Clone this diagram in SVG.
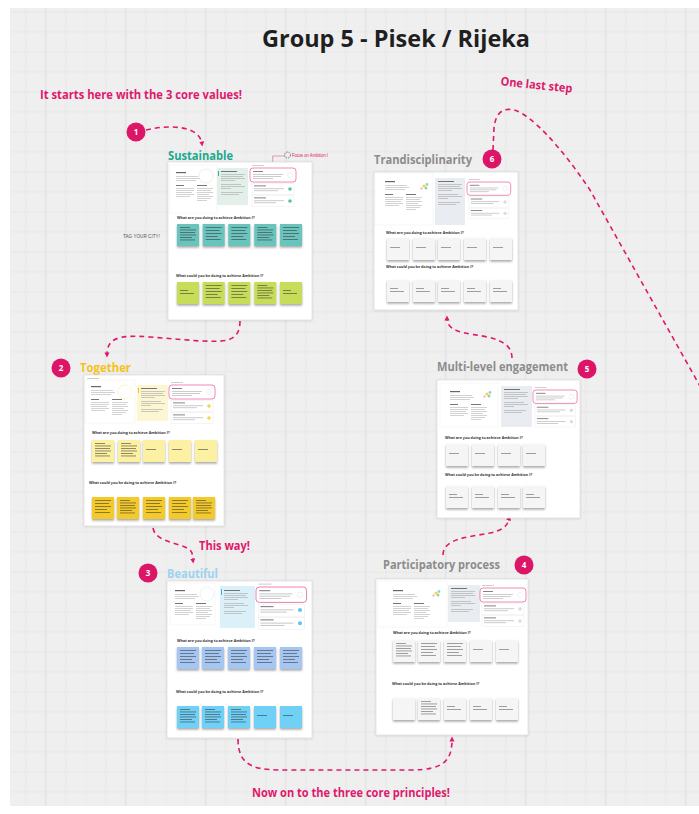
<svg xmlns="http://www.w3.org/2000/svg" xmlns:xlink="http://www.w3.org/1999/xlink" width="699" height="814" viewBox="0 0 699 814">
<style>
.ttl{font-family:"Open Sans","Noto Sans","Liberation Sans",sans-serif;font-weight:700}
.note{font-family:"Open Sans","Noto Sans","Liberation Sans",sans-serif;font-weight:700;fill:#e0186c;font-size:12px}
.hdr{font-family:"Open Sans","Noto Sans","Liberation Sans",sans-serif;font-weight:700;font-size:12px}
.q{font-family:"Open Sans","Liberation Sans",sans-serif;font-weight:700;font-size:3.7px;fill:#333}
.num{font-family:"Open Sans","Liberation Sans",sans-serif;font-weight:700;font-size:8px;fill:#fff;text-anchor:middle}
.board{fill:#fff;stroke:#d6d6d6;stroke-width:.6;filter:url(#bs)}
.panel{fill:#fff;stroke:#ececec;stroke-width:.4}
.pink{fill:#fff;stroke:#e8569a;stroke-width:.7}
.box{fill:none;stroke:#e6e6e6;stroke-width:.4}
.conn{fill:none;stroke:#e0186c;stroke-width:1.6;stroke-dasharray:5 4}
.st{filter:url(#ss)}
.tx{fill:#333;opacity:.6}
.txg{fill:#555;opacity:.6}
</style>
<defs>
<pattern id="grid" width="80" height="80" patternUnits="userSpaceOnUse" x="5.7" y="11.7">
<path d="M20,0V80M60,0V80M0,20H80M0,40H80M0,60H80M0,0V80" stroke="#e6e6e6" stroke-width="1" fill="none"/>
<path d="M40,0V80M0,0H80" stroke="#dddddd" stroke-width="1" fill="none"/>
</pattern>
<filter id="bs" x="-10%" y="-10%" width="120%" height="120%"><feDropShadow dx="0" dy="0.5" stdDeviation="0.8" flood-color="#000" flood-opacity="0.15"/></filter>
<filter id="ss" x="-20%" y="-20%" width="140%" height="150%"><feDropShadow dx="0" dy="1.6" stdDeviation="0.9" flood-color="#000" flood-opacity="0.35"/></filter>
<marker id="ah" viewBox="0 0 10 10" refX="5" refY="5" markerWidth="3.2" markerHeight="3.2" orient="auto-start-reverse" markerUnits="strokeWidth"><path d="M0,0L10,5L0,10z" fill="#e0186c"/></marker>
<g id="t6"><rect x="3" y="3" width="10" height=".9"/><rect x="3" y="5.5" width="16" height=".9"/><rect x="3" y="8" width="15" height=".9"/><rect x="3" y="10.5" width="16" height=".9"/><rect x="3" y="13" width="12" height=".9"/><rect x="3" y="15.5" width="15" height=".9"/></g>
<g id="t5"><rect x="3" y="3" width="16" height=".9"/><rect x="3" y="6" width="14" height=".9"/><rect x="3" y="9" width="16" height=".9"/><rect x="3" y="12" width="12" height=".9"/><rect x="3" y="15" width="15" height=".9"/></g>
<g id="t1"><rect x="3" y="9" width="10" height=".9"/></g>
<g id="t2"><rect x="3" y="8" width="8" height=".9"/><rect x="3" y="11" width="14" height=".9"/></g>
<g id="lp" fill="#b5b5b5">
<rect x="3" y="3" width="10" height="1.2" fill="#666"/>
<rect x="3" y="7" width="22" height=".6"/><rect x="3" y="9" width="24" height=".6"/><rect x="3" y="11" width="20" height=".6"/>
<rect x="3" y="16" width="8" height=".9" fill="#666"/><rect x="3" y="19" width="18" height=".6"/><rect x="3" y="21" width="18" height=".6"/><rect x="3" y="23" width="16" height=".6"/><rect x="3" y="25" width="18" height=".6"/><rect x="3" y="27" width="14" height=".6"/>
<rect x="24" y="16" width="10" height=".9" fill="#666"/><rect x="24" y="19" width="16" height=".6"/><rect x="24" y="21" width="14" height=".6"/><rect x="24" y="23" width="16" height=".6"/><rect x="24" y="25" width="12" height=".6"/><rect x="24" y="27" width="16" height=".6"/><rect x="24" y="29" width="14" height=".6"/><rect x="24" y="31" width="10" height=".6"/>
</g>
<g id="mp" fill="#a9a9a9">
<rect x="0" y="0" width="16" height=".9" fill="#666"/>
<rect x="0" y="3" width="24" height=".6"/><rect x="0" y="5" width="22" height=".6"/><rect x="0" y="7" width="24" height=".6"/><rect x="0" y="9" width="14" height=".6"/>
<rect x="0" y="13" width="20" height=".6"/><rect x="0" y="15" width="24" height=".6"/><rect x="0" y="17" width="10" height=".6"/>
<rect x="0" y="21" width="22" height=".6"/><rect x="0" y="23" width="18" height=".6"/>
</g>
<g id="rp">
<rect x="2" y="-3" width="12" height=".7" fill="#bbb"/>
<rect x="0" y="0" width="46" height="14" rx="3" class="pink"/>
<rect x="3" y="3" width="10" height=".8" fill="#666"/><rect x="3" y="6" width="30" height=".6" fill="#aaa"/><rect x="3" y="8" width="28" height=".6" fill="#aaa"/><rect x="3" y="10" width="20" height=".6" fill="#aaa"/>
<circle cx="40" cy="7" r="2.5" fill="none" stroke="#e2e2e2" stroke-width=".5"/>
<rect x="2" y="15.5" width="42" height="11" class="box"/>
<rect x="4" y="17.5" width="12" height=".8" fill="#666"/><rect x="4" y="20.5" width="30" height=".6" fill="#aaa"/><rect x="4" y="22.5" width="24" height=".6" fill="#aaa"/>
<circle cx="40" cy="21" r="1.8"/>
<rect x="2" y="27.5" width="42" height="11" class="box"/>
<rect x="4" y="29.5" width="12" height=".8" fill="#666"/><rect x="4" y="32.5" width="30" height=".6" fill="#aaa"/><rect x="4" y="34.5" width="22" height=".6" fill="#aaa"/>
<circle cx="40" cy="33" r="1.8"/>
</g>
<g id="icon"><circle cx="0" cy="0" r="1.6" fill="#f5d54a"/><circle cx="3" cy="-1.5" r="1.4" fill="#8fd0ee"/><circle cx="2" cy="2" r="1.5" fill="#9bd58e"/><circle cx="-2.5" cy="2.5" r="1.1" fill="#f2a1c4"/></g>
</defs>

<rect x="0" y="0" width="699" height="814" fill="#fff"/>
<rect x="10" y="8" width="689" height="798" fill="#efefef"/>
<rect x="10" y="8" width="689" height="798" fill="url(#grid)"/>

<g id="texts">
<text class="ttl" x="396" y="47" font-size="24" fill="#1f1f1f" text-anchor="middle" textLength="268" lengthAdjust="spacingAndGlyphs">Group 5 - Pisek / Rijeka</text>
<text class="note" x="40" y="99" textLength="202" lengthAdjust="spacingAndGlyphs">It starts here with the 3 core values!</text>
<text class="note" x="500" y="89" textLength="72" lengthAdjust="spacingAndGlyphs" transform="rotate(6 536 89)">One last step</text>
<text x="123" y="238" font-family="Liberation Sans, sans-serif" font-size="5" fill="#555" textLength="37" lengthAdjust="spacingAndGlyphs">TAG YOUR CITY!</text>
<text class="note" x="199" y="550" textLength="51" lengthAdjust="spacingAndGlyphs">This way!</text>
<text class="note" x="252" y="797" textLength="198" lengthAdjust="spacingAndGlyphs">Now on to the three core principles!</text>
</g>

<g id="connectors">
<path class="conn" d="M146,130 C170,124 200,126 202,144" marker-end="url(#ah)"/>
<path class="conn" d="M240,321 C240,345 220,341 200,341 L150,337 C115,334 107,340 107,355" marker-end="url(#ah)"/>
<path class="conn" d="M153,528 C156,545 188,542 192,553 L193,561" marker-end="url(#ah)"/>
<path class="conn" d="M238,739 C238,770 260,770 290,770 L410,770 C445,770 452,760 452,739" marker-end="url(#ah)"/>
<path class="conn" d="M443,555 C443,538 470,537 490,533 C503,530 508,526 509,518" marker-end="url(#ah)"/>
<path class="conn" d="M512,358 C512,340 490,337 470,334 C452,331 447,326 447,318" marker-end="url(#ah)"/>
<path class="conn" d="M493,150 L494,128 C496,110 505,108 514,110 C530,114 560,145 590,190 L705,395"/>
<path d="M272.7,169 V156 H284" fill="none" stroke="#e8569a" stroke-width=".6"/>
</g>

<g id="step-1"><circle cx="136" cy="132" r="9.5" fill="#dc1567"/><text class="num" x="136" y="135">1</text></g>
<g id="step-2"><circle cx="61" cy="368" r="9.5" fill="#dc1567"/><text class="num" x="61" y="371">2</text></g>
<g id="step-3"><circle cx="148" cy="573" r="9.5" fill="#dc1567"/><text class="num" x="148" y="576">3</text></g>
<g id="step-4"><circle cx="524" cy="565" r="9.5" fill="#dc1567"/><text class="num" x="524" y="568">4</text></g>
<g id="step-5"><circle cx="587" cy="369" r="9.5" fill="#dc1567"/><text class="num" x="587" y="372">5</text></g>
<g id="step-6"><circle cx="492" cy="159" r="9.5" fill="#dc1567"/><text class="num" x="492" y="162">6</text></g>

<g id="focus-note">
<circle cx="287.5" cy="155" r="3" fill="none" stroke="#555" stroke-width=".8" stroke-dasharray="1.5 1"/>
<text x="292" y="157" font-family="Liberation Sans, sans-serif" font-size="4.6" fill="#e0186c" textLength="36" lengthAdjust="spacingAndGlyphs">Focus on Ambition I</text>
</g>

<!-- Board 1: Sustainable -->
<g id="board-sustainable">
<text class="hdr" x="168" y="159.5" fill="#1ba88e" textLength="65" lengthAdjust="spacingAndGlyphs">Sustainable</text>
<g transform="translate(168,162)">
<rect class="board" width="144" height="158"/>
<rect x="3" y="3" width="12" height="1" fill="#ccc"/>
<rect class="panel" x="2" y="3" width="47" height="48"/>
<g transform="translate(5,7)"><use href="#lp"/></g>
<circle cx="38" cy="14" r="7" fill="none" stroke="#dcdcdc" stroke-width=".5"/>
<rect x="49" y="6" width="31" height="37" fill="#e3efe9"/>
<rect x="50" y="9" width="1" height="5" fill="#2eb38c"/>
<g transform="translate(53,9)"><use href="#mp"/></g>
<use href="#rp" x="82" y="6" fill="#4fc4a2"/>
<text class="q" x="9" y="57">What are you doing to achieve Ambition I?</text>
<g fill="#67c4bd" class="st"><rect x="9" y="62" width="22" height="22"/><rect x="34.7" y="62" width="22" height="22"/><rect x="60.3" y="62" width="22" height="22"/><rect x="86.3" y="62" width="22" height="22"/><rect x="112" y="62" width="22" height="22"/></g>
<g class="tx"><use href="#t6" x="9" y="62"/><use href="#t5" x="34.7" y="62"/><use href="#t5" x="60.3" y="62"/><use href="#t6" x="86.3" y="62"/><use href="#t5" x="112" y="62"/></g>
<text class="q" x="8" y="115">What could you be doing to achieve Ambition I?</text>
<g fill="#c7dc58" class="st"><rect x="9" y="120" width="22" height="22"/><rect x="34.7" y="120" width="22" height="22"/><rect x="60.3" y="120" width="22" height="22"/><rect x="86.3" y="120" width="22" height="22"/><rect x="112" y="120" width="22" height="22"/></g>
<g class="tx"><use href="#t2" x="9" y="120"/><use href="#t5" x="34.7" y="120"/><use href="#t5" x="60.3" y="120"/><use href="#t6" x="86.3" y="120"/><use href="#t2" x="112" y="120"/></g>
</g>
</g>

<!-- Board 2: Together -->
<g id="board-together">
<text class="hdr" x="80" y="371.5" fill="#f5c21b" textLength="51" lengthAdjust="spacingAndGlyphs">Together</text>
<g transform="translate(84,375)">
<rect class="board" width="140" height="151"/>
<rect x="3" y="3" width="12" height="1" fill="#ccc"/>
<rect class="panel" x="1" y="5" width="50" height="43"/>
<g transform="translate(4,8)"><use href="#lp"/></g>
<circle cx="41" cy="17" r="7" fill="none" stroke="#f6efb0" stroke-width=".6"/>
<rect x="53" y="10" width="31" height="36" fill="#fdf6d3"/>
<rect x="54" y="13" width="1" height="5" fill="#f2c40f"/>
<g transform="translate(57,13)"><use href="#mp"/></g>
<use href="#rp" x="85" y="10" fill="#f3d84a"/>
<text class="q" x="8" y="59">What are you doing to achieve Ambition I?</text>
<g fill="#fcf0a2" class="st"><rect x="8" y="65" width="22" height="22"/><rect x="34" y="65" width="22" height="22"/><rect x="59" y="65" width="22" height="22"/><rect x="85" y="65" width="22" height="22"/><rect x="111" y="65" width="22" height="22"/></g>
<g class="tx"><use href="#t6" x="8" y="65"/><use href="#t6" x="34" y="65"/><use href="#t1" x="59" y="65"/><use href="#t1" x="85" y="65"/><use href="#t1" x="111" y="65"/></g>
<text class="q" x="5" y="109">What could you be doing to achieve Ambition I?</text>
<g fill="#f4c92c" class="st"><rect x="8" y="122" width="22" height="22"/><rect x="33" y="122" width="22" height="22"/><rect x="59" y="122" width="22" height="22"/><rect x="85" y="122" width="22" height="22"/><rect x="109" y="122" width="22" height="22"/></g>
<g class="tx"><use href="#t5" x="8" y="122"/><use href="#t6" x="33" y="122"/><use href="#t5" x="59" y="122"/><use href="#t5" x="85" y="122"/><use href="#t6" x="109" y="122"/></g>
</g>
</g>

<!-- Board 3: Beautiful -->
<g id="board-beautiful">
<text class="hdr" x="167" y="577.5" fill="#9dd3f0" textLength="51" lengthAdjust="spacingAndGlyphs">Beautiful</text>
<g transform="translate(167,581)">
<rect class="board" width="145" height="157"/>
<rect x="3" y="3" width="12" height="1" fill="#ccc"/>
<rect class="panel" x="3" y="2" width="45" height="42"/>
<g transform="translate(5,6)"><use href="#lp"/></g>
<circle cx="40" cy="13" r="7" fill="none" stroke="#d8ecf7" stroke-width=".6"/>
<rect x="53" y="5" width="35" height="42" fill="#dcf0fa"/>
<rect x="54" y="8" width="1" height="6" fill="#4ab3e6"/>
<g transform="translate(57,9)"><use href="#mp"/></g>
<use href="#rp" x="89" y="6" fill="#5fc3ee" transform="translate(89,6) scale(1.1) translate(-89,-6)"/>
<text class="q" x="10" y="61">What are you doing to achieve Ambition I?</text>
<g fill="#a5c6f1" class="st"><rect x="10" y="66" width="22" height="22"/><rect x="35" y="66" width="22" height="22"/><rect x="61" y="66" width="22" height="22"/><rect x="87" y="66" width="22" height="22"/><rect x="113" y="66" width="22" height="22"/></g>
<g class="tx"><use href="#t5" x="10" y="66"/><use href="#t5" x="35" y="66"/><use href="#t5" x="61" y="66"/><use href="#t5" x="87" y="66"/><use href="#t5" x="113" y="66"/></g>
<text class="q" x="9" y="112">What could you be doing to achieve Ambition I?</text>
<g fill="#6fd0f6" class="st"><rect x="10" y="125" width="22" height="22"/><rect x="35" y="125" width="22" height="22"/><rect x="61" y="125" width="22" height="22"/><rect x="87" y="125" width="22" height="22"/><rect x="113" y="125" width="22" height="22"/></g>
<g class="tx"><use href="#t6" x="10" y="125"/><use href="#t6" x="35" y="125"/><use href="#t6" x="61" y="125"/><use href="#t1" x="87" y="125"/><use href="#t1" x="113" y="125"/></g>
</g>
</g>

<!-- Board 4: Participatory process -->
<g id="board-participatory">
<text class="hdr" x="383" y="568.5" fill="#8c8c8c" textLength="117" lengthAdjust="spacingAndGlyphs">Participatory process</text>
<g transform="translate(376,579)">
<rect class="board" width="152" height="156"/>
<rect x="3" y="3" width="14" height="1" fill="#ccc"/>
<rect class="panel" x="2" y="2" width="69" height="46"/>
<g transform="translate(14,8)"><use href="#lp"/></g>
<use href="#icon" x="60" y="14"/>
<rect x="72" y="6" width="32" height="37" fill="#e9ecf0"/>
<g transform="translate(75,9)"><use href="#mp"/></g>
<use href="#rp" x="104" y="9" fill="#dcdcdc"/>
<text class="q" x="17" y="55">What are you doing to achieve Ambition I?</text>
<g fill="#f5f5f5" class="st"><rect x="17" y="61" width="22" height="22"/><rect x="42" y="61" width="22" height="22"/><rect x="68" y="61" width="22" height="22"/><rect x="94" y="61" width="22" height="22"/><rect x="120" y="61" width="22" height="22"/></g>
<g class="txg"><use href="#t6" x="17" y="61"/><use href="#t5" x="42" y="61"/><use href="#t5" x="68" y="61"/><use href="#t1" x="94" y="61"/><use href="#t1" x="120" y="61"/></g>
<text class="q" x="16" y="106">What could you be doing to achieve Ambition I?</text>
<g fill="#f5f5f5" class="st"><rect x="17" y="119" width="22" height="22"/><rect x="42" y="119" width="22" height="22"/><rect x="68" y="119" width="22" height="22"/><rect x="94" y="119" width="22" height="22"/><rect x="120" y="119" width="22" height="22"/></g>
<g class="txg"><use href="#t6" x="42" y="119"/><use href="#t2" x="68" y="119"/><use href="#t2" x="94" y="119"/><use href="#t2" x="120" y="119"/></g>
</g>
</g>

<!-- Board 5: Multi-level engagement -->
<g id="board-multilevel">
<text class="hdr" x="437" y="370.5" fill="#8c8c8c" textLength="131" lengthAdjust="spacingAndGlyphs">Multi-level engagement</text>
<g transform="translate(437,380)">
<rect class="board" width="143" height="138"/>
<rect x="3" y="3" width="14" height="1" fill="#ccc"/>
<rect class="panel" x="3" y="3" width="58" height="44"/>
<g transform="translate(10,8)"><use href="#lp"/></g>
<use href="#icon" x="50" y="14"/>
<rect x="64" y="6" width="31" height="41" fill="#e9ecf0"/>
<g transform="translate(67,9)"><use href="#mp"/></g>
<use href="#rp" x="96" y="10" fill="#dcdcdc" transform="translate(96,10) scale(.96) translate(-96,-10)"/>
<text class="q" x="8" y="59">What are you doing to achieve Ambition I?</text>
<g fill="#f5f5f5" class="st"><rect x="9" y="64" width="22" height="22"/><rect x="35" y="64" width="22" height="22"/><rect x="61" y="64" width="22" height="22"/><rect x="86" y="64" width="22" height="22"/></g>
<g class="txg"><use href="#t1" x="9" y="64"/><use href="#t1" x="35" y="64"/><use href="#t1" x="61" y="64"/><use href="#t1" x="86" y="64"/></g>
<text class="q" x="8" y="96">What could you be doing to achieve Ambition I?</text>
<g fill="#f5f5f5" class="st"><rect x="9" y="106" width="22" height="22"/><rect x="35" y="106" width="22" height="22"/><rect x="61" y="106" width="22" height="22"/><rect x="86" y="106" width="22" height="22"/></g>
<g class="txg"><use href="#t2" x="9" y="106"/><use href="#t2" x="35" y="106"/><use href="#t2" x="61" y="106"/><use href="#t2" x="86" y="106"/></g>
</g>
</g>

<!-- Board 6: Trandisciplinarity -->
<g id="board-trandisciplinarity">
<text class="hdr" x="374" y="164" fill="#8c8c8c" textLength="98" lengthAdjust="spacingAndGlyphs">Trandisciplinarity</text>
<g transform="translate(374,172)">
<rect class="board" width="144" height="138"/>
<rect x="3" y="3" width="14" height="1" fill="#ccc"/>
<rect class="panel" x="1" y="1" width="58" height="52"/>
<g transform="translate(8,6)"><use href="#lp"/></g>
<use href="#icon" x="50" y="14"/>
<rect x="61" y="6" width="30" height="47" fill="#e9ecf0"/>
<g transform="translate(64,9)"><use href="#mp"/></g>
<use href="#rp" x="93" y="10" fill="#dcdcdc" transform="translate(93,10) scale(.95) translate(-93,-10)"/>
<text class="q" x="12" y="62">What are you doing to achieve Ambition I?</text>
<g fill="#f5f5f5" class="st"><rect x="13" y="66" width="22" height="22"/><rect x="39" y="66" width="22" height="22"/><rect x="64" y="66" width="22" height="22"/><rect x="90" y="66" width="22" height="22"/><rect x="116" y="66" width="22" height="22"/></g>
<g class="txg"><use href="#t1" x="13" y="66"/><use href="#t1" x="39" y="66"/><use href="#t1" x="64" y="66"/><use href="#t1" x="90" y="66"/><use href="#t1" x="116" y="66"/></g>
<text class="q" x="12" y="96">What could you be doing to achieve Ambition I?</text>
<g fill="#f5f5f5" class="st"><rect x="13" y="108" width="22" height="22"/><rect x="39" y="108" width="22" height="22"/><rect x="64" y="108" width="22" height="22"/><rect x="90" y="108" width="22" height="22"/><rect x="116" y="108" width="22" height="22"/></g>
<g class="txg"><use href="#t2" x="13" y="108"/><use href="#t2" x="39" y="108"/><use href="#t2" x="64" y="108"/><use href="#t2" x="90" y="108"/><use href="#t2" x="116" y="108"/></g>
</g>
</g>
</svg>
